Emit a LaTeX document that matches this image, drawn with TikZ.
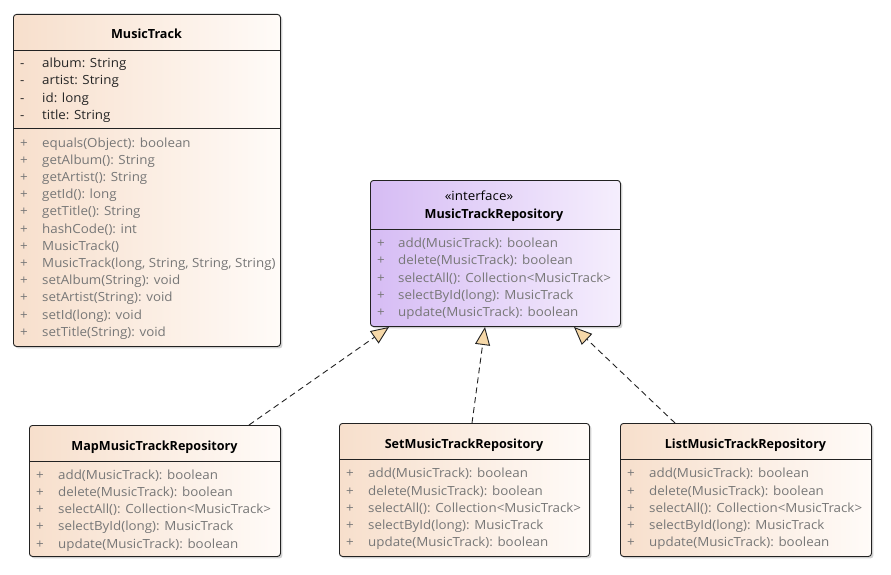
\documentclass[tikz,border=0pt]{standalone}
\usepackage{fontspec}
\setmainfont{Open Sans}[FakeStretch=1.06]
\newfontfamily\titlefont{Open Sans}
\usetikzlibrary{arrows.meta,shadows}
\definecolor{peachL}{HTML}{F7DFCC}
\definecolor{peachR}{HTML}{FFFBF8}
\definecolor{lavL}{HTML}{D6BCF4}
\definecolor{lavR}{HTML}{F5EEFD}
\definecolor{tipfill}{HTML}{F6D8A8}
\definecolor{methgray}{HTML}{777777}
\definecolor{attrcol}{HTML}{262626}
\definecolor{frame}{HTML}{222222}
\tikzset{
  x=1pt, y=-1pt,
  boxbase/.style={draw=frame, line width=0.9pt, rounded corners=3pt, anchor=north west,
    drop shadow={shadow xshift=2pt, shadow yshift=-2pt, fill=black, opacity=0.18}},
  classbox/.style={boxbase, left color=peachL, right color=peachR},
  ifacebox/.style={boxbase, left color=lavL, right color=lavR},
  sep/.style={draw=frame, line width=0.9pt},
  txt/.style={inner sep=0pt, text height=12.6pt, text depth=3pt, font=\fontsize{12.6}{15}\selectfont},
  title/.style={txt, font=\titlefont\fontsize{12.6}{15}\selectfont\bfseries, text=black},
  attr/.style={txt, anchor=west, text=attrcol},
  meth/.style={txt, anchor=west, text=methgray},
  realize/.style={draw=frame, line width=0.9pt, dash pattern=on 6pt off 4pt,
    -{Triangle[length=18pt, width=15pt, fill=tipfill]}}
}
\begin{document}
\begin{tikzpicture}
\useasboundingbox (0,0) rectangle (891,575);

% ---------- MusicTrack ----------
\node[classbox, minimum width=267pt, minimum height=332pt] (mt) at (13,14) {};
\draw[sep] (13,50) -- (280,50);
\draw[sep] (13,128) -- (280,128);
\node[title] (mt-t) at (146.5,34) {MusicTrack};
\foreach \y/\t [count=\i] in {63/{album: String}, 80/{artist: String}, 98/{id: long}, 115/{title: String}}
  \node[attr] (mt-a\i) at (20,\y) {\makebox[22pt][l]{-}\t};
\foreach \y/\t [count=\i] in {143/{equals(Object): boolean}, 160/{getAlbum(): String}, 177/{getArtist(): String},
  194/{getId(): long}, 211/{getTitle(): String}, 229/{hashCode(): int}, 246/{MusicTrack()},
  263/{MusicTrack(long, String, String, String)}, 280/{setAlbum(String): void},
  297/{setArtist(String): void}, 315/{setId(long): void}, 332/{setTitle(String): void}}
  \node[meth] (mt-m\i) at (20,\y) {\makebox[22pt][l]{+}\t};

% ---------- MusicTrackRepository ----------
\node[ifacebox, minimum width=250pt, minimum height=146pt] (ifc) at (370,180) {};
\draw[sep] (370,229) -- (620,229);
\node[txt, text=black] (ifc-s) at (479,196) {«interface»};
\node[title] (ifc-t) at (494,214) {MusicTrackRepository};
\foreach \y/\t [count=\i] in {243/{add(MusicTrack): boolean}, 260/{delete(MusicTrack): boolean},
  278/{selectAll(): Collection<MusicTrack>}, 295/{selectById(long): MusicTrack}, 312/{update(MusicTrack): boolean}}
  \node[meth] (ifc-m\i) at (377,\y) {\makebox[21pt][l]{+}\t};

% ---------- MapMusicTrackRepository ----------
\node[classbox, minimum width=251pt, minimum height=131pt] (map) at (29,425) {};
\draw[sep] (29,461) -- (280,461);
\node[title] (map-t) at (154.5,446) {MapMusicTrackRepository};
\foreach \y/\t [count=\i] in {475/{add(MusicTrack): boolean}, 492/{delete(MusicTrack): boolean},
  509/{selectAll(): Collection<MusicTrack>}, 526/{selectById(long): MusicTrack}, 544/{update(MusicTrack): boolean}}
  \node[meth] (map-m\i) at (36,\y) {\makebox[22pt][l]{+}\t};

% ---------- SetMusicTrackRepository ----------
\node[classbox, minimum width=250pt, minimum height=133pt] (set) at (339,423) {};
\draw[sep] (339,459) -- (589,459);
\node[title] (set-t) at (464,444) {SetMusicTrackRepository};
\foreach \y/\t [count=\i] in {473/{add(MusicTrack): boolean}, 491/{delete(MusicTrack): boolean},
  508/{selectAll(): Collection<MusicTrack>}, 525/{selectById(long): MusicTrack}, 542/{update(MusicTrack): boolean}}
  \node[meth] (set-m\i) at (346,\y) {\makebox[22pt][l]{+}\t};

% ---------- ListMusicTrackRepository ----------
\node[classbox, minimum width=251pt, minimum height=133pt] (lst) at (620,423) {};
\draw[sep] (620,459) -- (871,459);
\node[title] (lst-t) at (745.5,444) {ListMusicTrackRepository};
\foreach \y/\t [count=\i] in {473/{add(MusicTrack): boolean}, 491/{delete(MusicTrack): boolean},
  508/{selectAll(): Collection<MusicTrack>}, 525/{selectById(long): MusicTrack}, 542/{update(MusicTrack): boolean}}
  \node[meth] (lst-m\i) at (627,\y) {\makebox[22pt][l]{+}\t};

% ---------- realizations ----------
\coordinate (map-up) at (249,425);
\coordinate (set-up) at (472,423);
\coordinate (lst-up) at (675,423);
\coordinate (ifc-in1) at (389,327);
\coordinate (ifc-in2) at (485,327);
\coordinate (ifc-in3) at (574,327);
\draw[realize] (map-up) -- (ifc-in1);
\draw[realize] (set-up) -- (ifc-in2);
\draw[realize] (lst-up) -- (ifc-in3);
\end{tikzpicture}
\end{document}
